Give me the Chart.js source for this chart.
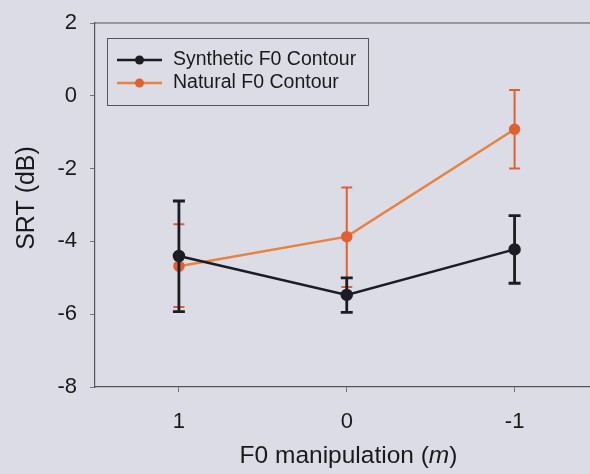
<!DOCTYPE html>
<html>
<head>
<meta charset="utf-8">
<script src="https://cdn.jsdelivr.net/npm/chart.js@4.4.1/dist/chart.umd.min.js"></script>
<style>
  html, body { margin:0; padding:0; background:#dcdce7; overflow:hidden; width:590px; height:474px; }
  #wrap { position:absolute; left:0; top:0; width:606px; height:474px; }
</style>
</head>
<body>
<div id="wrap"><canvas id="c" width="606" height="474"></canvas></div>
<script>
const categories = ['1', '0', '-1'];
const seriesNames = ['Synthetic F0 Contour', 'Natural F0 Contour'];
const syntheticMean = [-4.40, -5.47, -4.22];
const syntheticHigh = [-2.89, -5.00, -3.29];
const syntheticLow  = [-5.93, -5.95, -5.15];
const naturalMean = [-4.68, -3.87, -0.92];
const naturalHigh = [-3.53, -2.52, 0.16];
const naturalLow  = [-5.80, -5.25, -2.00];
const yTicks = [-8, -6, -4, -2, 0, 2];
const xTitleParts = [['F0 manipulation (', false], ['m', true], [')', false]];
const yTitle = 'SRT (dB)';

const FONT = '"Liberation Sans", Arial, sans-serif';
const BLACK = '#1c1c24';
const ORANGE_LINE = '#e8833f';
const ORANGE = '#e0602f';
const TEXT = '#1a1a1a';

const errorBars = {
  id: 'errorBars',
  afterDatasetsDraw(chart) {
    const ctx = chart.ctx;
    const y = chart.scales.y;
    chart.data.datasets.forEach((ds, di) => {
      const meta = chart.getDatasetMeta(di);
      ctx.save();
      ctx.strokeStyle = ds.errColor;
      ctx.lineWidth = ds.errWidth;
      meta.data.forEach((pt, i) => {
        const x = pt.x;
        const yh = y.getPixelForValue(ds.errHigh[i]);
        const yl = y.getPixelForValue(ds.errLow[i]);
        const cw = ds.capHalf;
        ctx.beginPath();
        ctx.moveTo(x, yh); ctx.lineTo(x, yl);
        ctx.moveTo(x - cw, yh); ctx.lineTo(x + cw, yh);
        ctx.moveTo(x - cw, yl); ctx.lineTo(x + cw, yl);
        ctx.stroke();
      });
      ctx.restore();
    });
  }
};

const frameAndLegend = {
  id: 'frameAndLegend',
  afterDraw(chart) {
    const ctx = chart.ctx;
    const a = chart.chartArea;
    ctx.save();
    // top border
    ctx.strokeStyle = '#555';
    ctx.lineWidth = 1.2;
    ctx.beginPath();
    ctx.moveTo(a.left, a.top); ctx.lineTo(a.right, a.top);
    ctx.stroke();
    // legend box
    const bx = 107.5, by = 38.5, bw = 261, bh = 67;
    ctx.strokeStyle = '#555';
    ctx.lineWidth = 1;
    ctx.strokeRect(bx, by, bw, bh);
    const rows = [
      { y: 60, line: BLACK, dot: BLACK, name: seriesNames[0] },
      { y: 83, line: ORANGE_LINE, dot: ORANGE, name: seriesNames[1] }
    ];
    rows.forEach(r => {
      ctx.strokeStyle = r.line;
      ctx.lineWidth = 2.5;
      ctx.beginPath();
      ctx.moveTo(117, r.y); ctx.lineTo(162, r.y);
      ctx.stroke();
      ctx.fillStyle = r.dot;
      ctx.beginPath();
      ctx.arc(139.5, r.y, 4.5, 0, Math.PI * 2);
      ctx.fill();
      ctx.fillStyle = TEXT;
      ctx.font = '19.5px ' + FONT;
      ctx.textBaseline = 'middle';
      ctx.textAlign = 'left';
      ctx.fillText(r.name, 173, r.y);
    });
    // x title with italic m
    ctx.fillStyle = TEXT;
    ctx.textBaseline = 'alphabetic';
    ctx.textAlign = 'left';
    const xs = '24.5px ';
    let total = 0;
    xTitleParts.forEach(([t, it]) => {
      ctx.font = (it ? 'italic ' : '') + xs + FONT;
      total += ctx.measureText(t).width;
    });
    let x = 348.5 - total / 2;
    xTitleParts.forEach(([t, it]) => {
      ctx.font = (it ? 'italic ' : '') + xs + FONT;
      ctx.fillText(t, x, 463);
      x += ctx.measureText(t).width;
    });
    // y title
    ctx.save();
    ctx.translate(27, 198);
    ctx.rotate(-Math.PI / 2);
    ctx.textAlign = 'center';
    ctx.textBaseline = 'middle';
    ctx.font = '25px ' + FONT;
    ctx.fillText(yTitle, 0, 0);
    ctx.restore();
    ctx.restore();
  }
};

new Chart(document.getElementById('c'), {
  type: 'line',
  data: {
    labels: categories,
    datasets: [
      {
        label: seriesNames[1],
        data: naturalMean,
        errHigh: naturalHigh, errLow: naturalLow,
        errColor: ORANGE, errWidth: 2, capHalf: 5.5,
        borderColor: ORANGE_LINE,
        backgroundColor: ORANGE,
        pointBackgroundColor: ORANGE,
        pointBorderColor: ORANGE,
        pointRadius: 4.5,
        borderWidth: 2.5,
        tension: 0,
        order: 2
      },
      {
        label: seriesNames[0],
        data: syntheticMean,
        errHigh: syntheticHigh, errLow: syntheticLow,
        errColor: BLACK, errWidth: 2.8, capHalf: 6,
        borderColor: BLACK,
        backgroundColor: BLACK,
        pointBackgroundColor: BLACK,
        pointBorderColor: BLACK,
        pointRadius: 5,
        borderWidth: 2.5,
        tension: 0,
        order: 1
      }
    ]
  },
  options: {
    responsive: false,
    animation: false,
    devicePixelRatio: 1,
    layout: { padding: { top: 23, right: 0, left: 0, bottom: 0 } },
    plugins: { legend: { display: false }, tooltip: { enabled: false } },
    scales: {
      x: {
        type: 'category',
        offset: true,
        grid: { drawOnChartArea: false, drawTicks: true, tickLength: 5, color: '#777', offset: false },
        border: { color: '#555', width: 1.2 },
        ticks: { font: { family: FONT, size: 22 }, color: TEXT, padding: 17 },
        afterFit(s) { s.height = 87; s.paddingLeft = 0; s.paddingRight = 0; }
      },
      y: {
        min: -8, max: 2,
        afterBuildTicks(s) { s.ticks = yTicks.map(v => ({ value: v })); },
        grid: { drawOnChartArea: false, drawTicks: true, tickLength: 5, color: '#777' },
        border: { color: '#555', width: 1.2 },
        ticks: { font: { family: FONT, size: 22 }, color: TEXT, padding: 13 },
        afterFit(s) { s.width = 95; s.paddingTop = 0; s.paddingBottom = 0; }
      }
    }
  },
  plugins: [errorBars, frameAndLegend]
});
</script>
</body>
</html>
